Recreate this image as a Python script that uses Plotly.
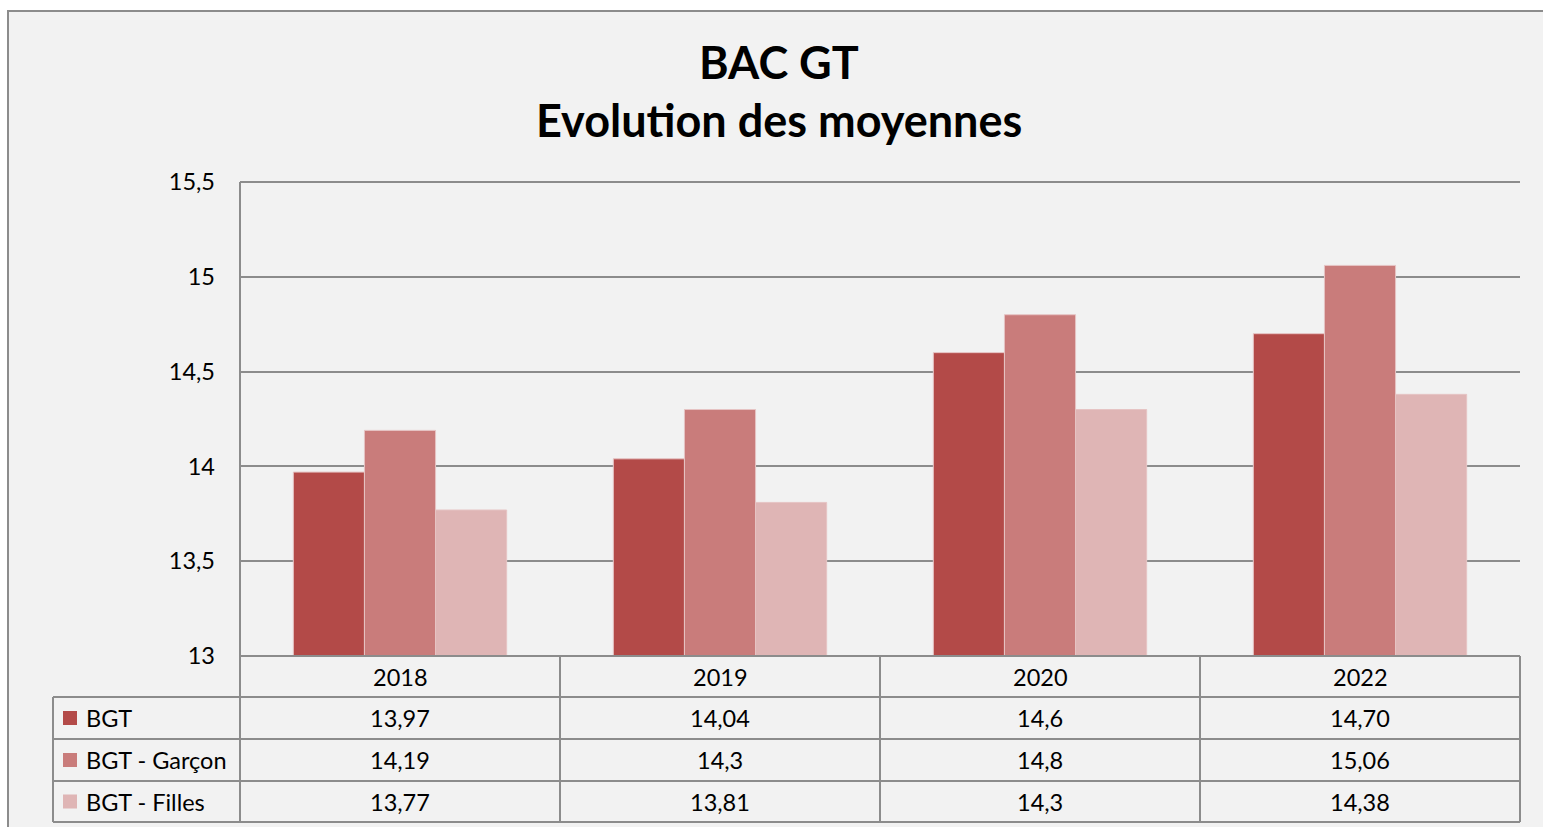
import plotly.graph_objects as go

years = ["2018", "2019", "2020", "2022"]
series_names = ["BGT", "BGT - Garçon", "BGT - Filles"]
bgt = [13.97, 14.04, 14.6, 14.70]
bgt_garcon = [14.19, 14.3, 14.8, 15.06]
bgt_filles = [13.77, 13.81, 14.3, 14.38]
table_bgt = ["13,97", "14,04", "14,6", "14,70"]
table_garcon = ["14,19", "14,3", "14,8", "15,06"]
table_filles = ["13,77", "13,81", "14,3", "14,38"]
y_ticks = [13, 13.5, 14, 14.5, 15, 15.5]

colors = ["#b34a48", "#c97c7b", "#dfb5b5"]
W, H = 1543, 827
FONT = "Lato"
GRID = "#8c8c8c"
TXT = 23.5

def px(x):
    return x / W

def py(y):
    return 1 - y / H

fig = go.Figure()
for name, vals, col in zip(series_names, [bgt, bgt_garcon, bgt_filles], colors):
    fig.add_trace(go.Bar(x=years, y=vals, name=name, marker_color=col,
                         marker_line=dict(color="#e6c4c4", width=1), showlegend=False))

plot_left, plot_right, plot_top, plot_bottom = 240, 1520, 182, 656
row_edges = [656, 697, 739, 781, 822]

shapes = []
shapes.append(dict(type="rect", xref="paper", yref="paper", x0=px(8), x1=px(W + 20), y0=py(H + 20), y1=py(11),
                   fillcolor="#f2f2f2", line=dict(color="#8c8c8c", width=2), layer="below"))
shapes.append(dict(type="line", xref="paper", yref="paper", x0=px(plot_left), x1=px(plot_left),
                   y0=py(plot_bottom), y1=py(plot_top), line=dict(color=GRID, width=2)))
# top gridline (at the upper end of the value axis)
shapes.append(dict(type="line", xref="paper", yref="paper", x0=px(plot_left), x1=px(plot_right),
                   y0=py(plot_top), y1=py(plot_top), line=dict(color=GRID, width=2), layer="below"))
for i, ry in enumerate(row_edges):
    x0 = plot_left if i == 0 else 53
    shapes.append(dict(type="line", xref="paper", yref="paper", x0=px(x0), x1=px(plot_right),
                       y0=py(ry), y1=py(ry), line=dict(color=GRID, width=2)))
for k in range(len(years) + 1):
    xv = plot_left + k * (plot_right - plot_left) / len(years)
    shapes.append(dict(type="line", xref="paper", yref="paper", x0=px(xv), x1=px(xv),
                       y0=py(row_edges[-1]), y1=py(row_edges[0]), line=dict(color=GRID, width=2)))
shapes.append(dict(type="line", xref="paper", yref="paper", x0=px(53), x1=px(53),
                   y0=py(row_edges[-1]), y1=py(row_edges[1]), line=dict(color=GRID, width=2)))

annotations = []
annotations.append(dict(text="<b>BAC GT</b>", xref="paper", yref="paper", x=px(779), y=py(62),
                        showarrow=False, font=dict(family=FONT, size=45, color="#000000"), xanchor="center", yanchor="middle"))
annotations.append(dict(text="<b>Evolution des moyennes</b>", xref="paper", yref="paper", x=px(779), y=py(120),
                        showarrow=False, font=dict(family=FONT, size=45, color="#000000"), xanchor="center", yanchor="middle"))

rows = [years, table_bgt, table_garcon, table_filles]
for r, labels in enumerate(rows):
    yc = (row_edges[r] + row_edges[r + 1]) / 2
    for ci, lab in enumerate(labels):
        annotations.append(dict(text=lab, xref="x", yref="paper", x=ci, y=py(yc), showarrow=False,
                                font=dict(family=FONT, size=TXT, color="#000000"), xanchor="center", yanchor="middle"))
    if r > 0:
        shapes.append(dict(type="rect", xref="paper", yref="paper", x0=px(63), x1=px(77),
                           y0=py(yc + 7), y1=py(yc - 7), fillcolor=colors[r - 1], line=dict(width=0)))
        annotations.append(dict(text=series_names[r - 1], xref="paper", yref="paper", x=px(84), y=py(yc),
                                showarrow=False, font=dict(family=FONT, size=TXT, color="#000000"),
                                xanchor="left", yanchor="middle"))

fig.update_layout(
    template="none",
    width=W, height=H, margin=dict(l=0, r=0, t=0, b=0, pad=0, autoexpand=False),
    paper_bgcolor="#ffffff", plot_bgcolor="rgba(0,0,0,0)",
    separators=", ",
    barmode="group", bargap=1/3, bargroupgap=0,
    shapes=shapes, annotations=annotations,
    font=dict(family=FONT, size=TXT, color="#000000"),
    xaxis=dict(type="category", categoryorder="array", categoryarray=years, range=[-0.5, len(years) - 0.5],
               domain=[px(plot_left), px(plot_right)], showticklabels=False, showgrid=False,
               zeroline=False, showline=False, ticks="", automargin=False),
    yaxis=dict(domain=[py(plot_bottom), py(plot_top)], range=[13, 15.5], tickvals=y_ticks,
               showgrid=True, gridcolor=GRID, gridwidth=2, zeroline=False, showline=False,
               ticks="", ticklabelstandoff=24, automargin=False,
               tickfont=dict(family=FONT, size=TXT, color="#000000")),
)

fig.write_html("out.html", config={"displayModeBar": False},
               post_script="document.body.style.margin='0';document.body.style.overflow='hidden';")
